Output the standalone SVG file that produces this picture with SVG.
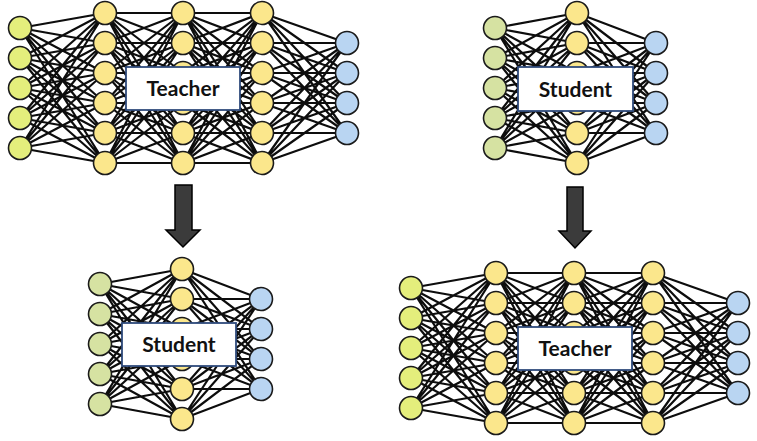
<svg xmlns="http://www.w3.org/2000/svg" xmlns:xlink="http://www.w3.org/1999/xlink" width="757" height="441" viewBox="0 0 757 441">
<style>
.e{fill:none;stroke:#0d0d0d;stroke-width:2.2}
circle{stroke:#1a1a1a;stroke-width:1.6}
.it{fill:#e4ee7c}
.is{fill:#d6e2a2}
.h{fill:#fbe78c}
.o{fill:#b9d5f2}
.box{fill:#fff;stroke:#2f4b7c;stroke-width:1.8}
.lbl{font-family:"Lato","Liberation Sans",sans-serif;font-weight:bold;font-size:21px;fill:#111;text-anchor:middle}
.arr{fill:#3b3b3b;stroke:#000;stroke-width:1.5}
</style>
<defs>
<g id="teacherEdges">
<path class="e" d="M20 28L105 13M20 28L105 43M20 28L105 73M20 28L105 103M20 28L105 133M20 28L105 163M20 58L105 13M20 58L105 43M20 58L105 73M20 58L105 103M20 58L105 133M20 58L105 163M20 88L105 13M20 88L105 43M20 88L105 73M20 88L105 103M20 88L105 133M20 88L105 163M20 118L105 13M20 118L105 43M20 118L105 73M20 118L105 103M20 118L105 133M20 118L105 163M20 148L105 13M20 148L105 43M20 148L105 73M20 148L105 103M20 148L105 133M20 148L105 163"/>
<path class="e" d="M105 13L183 13M105 13L183 43M105 13L183 73M105 13L183 103M105 13L183 133M105 13L183 163M105 43L183 13M105 43L183 43M105 43L183 73M105 43L183 103M105 43L183 133M105 43L183 163M105 73L183 13M105 73L183 43M105 73L183 73M105 73L183 103M105 73L183 133M105 73L183 163M105 103L183 13M105 103L183 43M105 103L183 73M105 103L183 103M105 103L183 133M105 103L183 163M105 133L183 13M105 133L183 43M105 133L183 73M105 133L183 103M105 133L183 133M105 133L183 163M105 163L183 13M105 163L183 43M105 163L183 73M105 163L183 103M105 163L183 133M105 163L183 163"/>
<path class="e" d="M183 13L262 13M183 13L262 43M183 13L262 73M183 13L262 103M183 13L262 133M183 13L262 163M183 43L262 13M183 43L262 43M183 43L262 73M183 43L262 103M183 43L262 133M183 43L262 163M183 73L262 13M183 73L262 43M183 73L262 73M183 73L262 103M183 73L262 133M183 73L262 163M183 103L262 13M183 103L262 43M183 103L262 73M183 103L262 103M183 103L262 133M183 103L262 163M183 133L262 13M183 133L262 43M183 133L262 73M183 133L262 103M183 133L262 133M183 133L262 163M183 163L262 13M183 163L262 43M183 163L262 73M183 163L262 103M183 163L262 133M183 163L262 163"/>
<path class="e" d="M262 13L347 43M262 13L347 73M262 13L347 103M262 13L347 133M262 43L347 43M262 43L347 73M262 43L347 103M262 43L347 133M262 73L347 43M262 73L347 73M262 73L347 103M262 73L347 133M262 103L347 43M262 103L347 73M262 103L347 103M262 103L347 133M262 133L347 43M262 133L347 73M262 133L347 103M262 133L347 133M262 163L347 43M262 163L347 73M262 163L347 103M262 163L347 133"/>
</g>
<g id="studentEdges">
<path class="e" d="M495 28L577 13M495 28L577 43M495 28L577 73M495 28L577 103M495 28L577 133M495 28L577 163M495 58L577 13M495 58L577 43M495 58L577 73M495 58L577 103M495 58L577 133M495 58L577 163M495 88L577 13M495 88L577 43M495 88L577 73M495 88L577 103M495 88L577 133M495 88L577 163M495 118L577 13M495 118L577 43M495 118L577 73M495 118L577 103M495 118L577 133M495 118L577 163M495 148L577 13M495 148L577 43M495 148L577 73M495 148L577 103M495 148L577 133M495 148L577 163"/>
<path class="e" d="M577 13L656 43M577 13L656 73M577 13L656 103M577 13L656 133M577 43L656 43M577 43L656 73M577 43L656 103M577 43L656 133M577 73L656 43M577 73L656 73M577 73L656 103M577 73L656 133M577 103L656 43M577 103L656 73M577 103L656 103M577 103L656 133M577 133L656 43M577 133L656 73M577 133L656 103M577 133L656 133M577 163L656 43M577 163L656 73M577 163L656 103M577 163L656 133"/>
</g>
</defs>

<g id="connectors">
<use xlink:href="#teacherEdges"/>
<use xlink:href="#studentEdges"/>
<use xlink:href="#studentEdges" transform="translate(-395 256)"/>
<use xlink:href="#teacherEdges" transform="translate(391 260)"/>
</g>

<g id="teacher-top">
<g id="tA-i1"><circle class="it" cx="20" cy="28" r="11.5"/></g>
<g id="tA-i2"><circle class="it" cx="20" cy="58" r="11.5"/></g>
<g id="tA-i3"><circle class="it" cx="20" cy="88" r="11.5"/></g>
<g id="tA-i4"><circle class="it" cx="20" cy="118" r="11.5"/></g>
<g id="tA-i5"><circle class="it" cx="20" cy="148" r="11.5"/></g>
<g id="tA-a1"><circle class="h" cx="105" cy="13" r="11.5"/></g>
<g id="tA-a2"><circle class="h" cx="105" cy="43" r="11.5"/></g>
<g id="tA-a3"><circle class="h" cx="105" cy="73" r="11.5"/></g>
<g id="tA-a4"><circle class="h" cx="105" cy="103" r="11.5"/></g>
<g id="tA-a5"><circle class="h" cx="105" cy="133" r="11.5"/></g>
<g id="tA-a6"><circle class="h" cx="105" cy="163" r="11.5"/></g>
<g id="tA-b1"><circle class="h" cx="183" cy="13" r="11.5"/></g>
<g id="tA-b2"><circle class="h" cx="183" cy="43" r="11.5"/></g>
<g id="tA-b3"><circle class="h" cx="183" cy="73" r="11.5"/></g>
<g id="tA-b4"><circle class="h" cx="183" cy="103" r="11.5"/></g>
<g id="tA-b5"><circle class="h" cx="183" cy="133" r="11.5"/></g>
<g id="tA-b6"><circle class="h" cx="183" cy="163" r="11.5"/></g>
<g id="tA-c1"><circle class="h" cx="262" cy="13" r="11.5"/></g>
<g id="tA-c2"><circle class="h" cx="262" cy="43" r="11.5"/></g>
<g id="tA-c3"><circle class="h" cx="262" cy="73" r="11.5"/></g>
<g id="tA-c4"><circle class="h" cx="262" cy="103" r="11.5"/></g>
<g id="tA-c5"><circle class="h" cx="262" cy="133" r="11.5"/></g>
<g id="tA-c6"><circle class="h" cx="262" cy="163" r="11.5"/></g>
<g id="tA-o1"><circle class="o" cx="347" cy="43" r="11.5"/></g>
<g id="tA-o2"><circle class="o" cx="347" cy="73" r="11.5"/></g>
<g id="tA-o3"><circle class="o" cx="347" cy="103" r="11.5"/></g>
<g id="tA-o4"><circle class="o" cx="347" cy="133" r="11.5"/></g>
<g id="tA-label"><rect class="box" x="126" y="67" width="114" height="43"/><text class="lbl" x="183" y="96">Teacher</text></g>
</g>

<g id="student-top">
<g id="sB-i1"><circle class="is" cx="495" cy="28" r="11.5"/></g>
<g id="sB-i2"><circle class="is" cx="495" cy="58" r="11.5"/></g>
<g id="sB-i3"><circle class="is" cx="495" cy="88" r="11.5"/></g>
<g id="sB-i4"><circle class="is" cx="495" cy="118" r="11.5"/></g>
<g id="sB-i5"><circle class="is" cx="495" cy="148" r="11.5"/></g>
<g id="sB-a1"><circle class="h" cx="577" cy="13" r="11.5"/></g>
<g id="sB-a2"><circle class="h" cx="577" cy="43" r="11.5"/></g>
<g id="sB-a3"><circle class="h" cx="577" cy="73" r="11.5"/></g>
<g id="sB-a4"><circle class="h" cx="577" cy="103" r="11.5"/></g>
<g id="sB-a5"><circle class="h" cx="577" cy="133" r="11.5"/></g>
<g id="sB-a6"><circle class="h" cx="577" cy="163" r="11.5"/></g>
<g id="sB-o1"><circle class="o" cx="656" cy="43" r="11.5"/></g>
<g id="sB-o2"><circle class="o" cx="656" cy="73" r="11.5"/></g>
<g id="sB-o3"><circle class="o" cx="656" cy="103" r="11.5"/></g>
<g id="sB-o4"><circle class="o" cx="656" cy="133" r="11.5"/></g>
<g id="sB-label"><rect class="box" x="518" y="67" width="115" height="44"/><text class="lbl" x="575.5" y="96.5">Student</text></g>
</g>

<g id="student-bottom" transform="translate(-395 256)">
<g id="sC-i1"><circle class="is" cx="495" cy="28" r="11.5"/></g>
<g id="sC-i2"><circle class="is" cx="495" cy="58" r="11.5"/></g>
<g id="sC-i3"><circle class="is" cx="495" cy="88" r="11.5"/></g>
<g id="sC-i4"><circle class="is" cx="495" cy="118" r="11.5"/></g>
<g id="sC-i5"><circle class="is" cx="495" cy="148" r="11.5"/></g>
<g id="sC-a1"><circle class="h" cx="577" cy="13" r="11.5"/></g>
<g id="sC-a2"><circle class="h" cx="577" cy="43" r="11.5"/></g>
<g id="sC-a3"><circle class="h" cx="577" cy="73" r="11.5"/></g>
<g id="sC-a4"><circle class="h" cx="577" cy="103" r="11.5"/></g>
<g id="sC-a5"><circle class="h" cx="577" cy="133" r="11.5"/></g>
<g id="sC-a6"><circle class="h" cx="577" cy="163" r="11.5"/></g>
<g id="sC-o1"><circle class="o" cx="656" cy="43" r="11.5"/></g>
<g id="sC-o2"><circle class="o" cx="656" cy="73" r="11.5"/></g>
<g id="sC-o3"><circle class="o" cx="656" cy="103" r="11.5"/></g>
<g id="sC-o4"><circle class="o" cx="656" cy="133" r="11.5"/></g>
<g id="sC-label"><rect class="box" x="517" y="67" width="114" height="43"/><text class="lbl" x="574" y="96">Student</text></g>
</g>

<g id="teacher-bottom" transform="translate(391 260)">
<g id="tD-i1"><circle class="it" cx="20" cy="28" r="11.5"/></g>
<g id="tD-i2"><circle class="it" cx="20" cy="58" r="11.5"/></g>
<g id="tD-i3"><circle class="it" cx="20" cy="88" r="11.5"/></g>
<g id="tD-i4"><circle class="it" cx="20" cy="118" r="11.5"/></g>
<g id="tD-i5"><circle class="it" cx="20" cy="148" r="11.5"/></g>
<g id="tD-a1"><circle class="h" cx="105" cy="13" r="11.5"/></g>
<g id="tD-a2"><circle class="h" cx="105" cy="43" r="11.5"/></g>
<g id="tD-a3"><circle class="h" cx="105" cy="73" r="11.5"/></g>
<g id="tD-a4"><circle class="h" cx="105" cy="103" r="11.5"/></g>
<g id="tD-a5"><circle class="h" cx="105" cy="133" r="11.5"/></g>
<g id="tD-a6"><circle class="h" cx="105" cy="163" r="11.5"/></g>
<g id="tD-b1"><circle class="h" cx="183" cy="13" r="11.5"/></g>
<g id="tD-b2"><circle class="h" cx="183" cy="43" r="11.5"/></g>
<g id="tD-b3"><circle class="h" cx="183" cy="73" r="11.5"/></g>
<g id="tD-b4"><circle class="h" cx="183" cy="103" r="11.5"/></g>
<g id="tD-b5"><circle class="h" cx="183" cy="133" r="11.5"/></g>
<g id="tD-b6"><circle class="h" cx="183" cy="163" r="11.5"/></g>
<g id="tD-c1"><circle class="h" cx="262" cy="13" r="11.5"/></g>
<g id="tD-c2"><circle class="h" cx="262" cy="43" r="11.5"/></g>
<g id="tD-c3"><circle class="h" cx="262" cy="73" r="11.5"/></g>
<g id="tD-c4"><circle class="h" cx="262" cy="103" r="11.5"/></g>
<g id="tD-c5"><circle class="h" cx="262" cy="133" r="11.5"/></g>
<g id="tD-c6"><circle class="h" cx="262" cy="163" r="11.5"/></g>
<g id="tD-o1"><circle class="o" cx="347" cy="43" r="11.5"/></g>
<g id="tD-o2"><circle class="o" cx="347" cy="73" r="11.5"/></g>
<g id="tD-o3"><circle class="o" cx="347" cy="103" r="11.5"/></g>
<g id="tD-o4"><circle class="o" cx="347" cy="133" r="11.5"/></g>
<g id="tD-label"><rect class="box" x="127" y="67" width="114" height="43"/><text class="lbl" x="184" y="96">Teacher</text></g>
</g>

<g id="arrows">
<polygon class="arr" points="175,185 192,185 192,230 200,230 183,247 166,230 175,230"/>
<polygon class="arr" points="567,187 583,187 583,231 591,231 575,248 559,231 567,231"/>
</g>
</svg>
